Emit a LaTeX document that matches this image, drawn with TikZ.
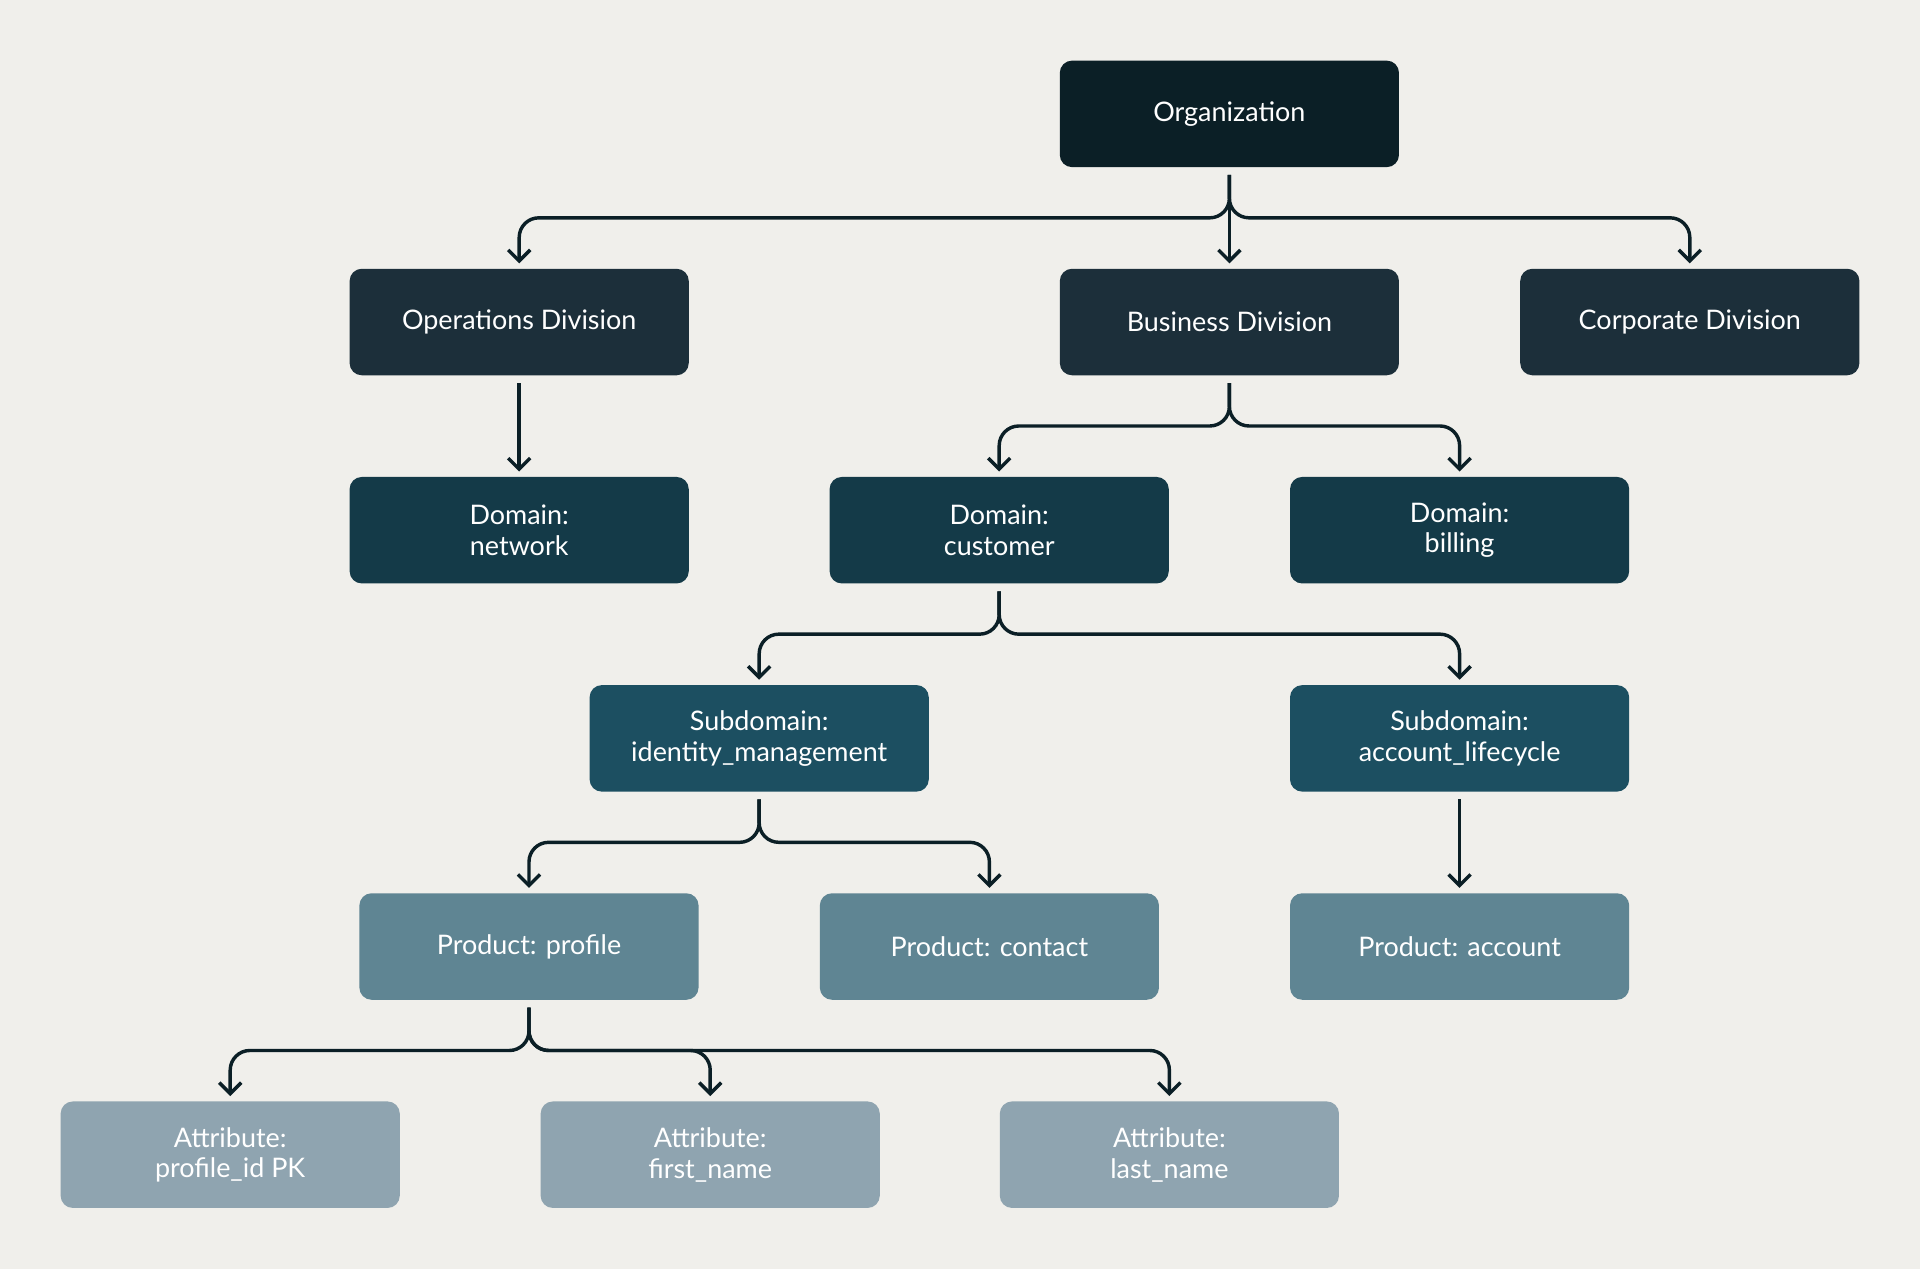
\documentclass[tikz,border=0pt]{standalone}
\usepackage{fontspec}
\setmainfont{Lato}
\usetikzlibrary{arrows.meta}
\definecolor{bg}{HTML}{F0EFEB}
\definecolor{c0}{HTML}{0B1F26}
\definecolor{c1}{HTML}{1C2F3A}
\definecolor{c2}{HTML}{143A48}
\definecolor{c3}{HTML}{1C4F61}
\definecolor{c4}{HTML}{5F8593}
\definecolor{c5}{HTML}{8FA4B0}
\begin{document}
\begin{tikzpicture}[x=0.5pt,y=-0.5pt,
 box/.style={rounded corners=5pt,minimum width=138.5pt,minimum height=43.5pt,text=white,align=center,font=\fontsize{11}{12.5}\selectfont,inner sep=0pt},
 conn/.style={draw=c0,line width=1.4pt,rounded corners=8pt,-{Straight Barb[length=4.5pt,width=9pt,line width=1.4pt]}}]
\fill[bg] (0,0) rectangle (1568,1036);
\node[box,fill=c0] (org) at (1004,93) {Organization};
\node[box,fill=c1] (ops) at (424,263) {Operations Division};
\node[box,fill=c1] (bus) at (1004,263) {Business Division};
\node[box,fill=c1] (cor) at (1380,263) {Corporate Division};
\node[box,fill=c2] (net) at (424,433) {Domain:\\network};
\node[box,fill=c2] (cus) at (816,433) {Domain:\\customer};
\node[box,fill=c2] (bil) at (1192,433) {Domain:\\billing};
\node[box,fill=c3] (idm) at (620,603) {Subdomain:\\identity\_management};
\node[box,fill=c3] (acl) at (1192,603) {Subdomain:\\account\_lifecycle};
\node[box,fill=c4] (pro) at (432,773) {Product: profile};
\node[box,fill=c4] (con) at (808,773) {Product: contact};
\node[box,fill=c4] (acc) at (1192,773) {Product: account};
\node[box,fill=c5] (a1) at (188,943) {Attribute:\\profile\_id PK};
\node[box,fill=c5] (a2) at (580,943) {Attribute:\\first\_name};
\node[box,fill=c5] (a3) at (955,943) {Attribute:\\last\_name};
\foreach \p/\c in {org/ops,org/cor,bus/cus,bus/bil,cus/idm,cus/acl,idm/pro,idm/con,pro/a1,pro/a2,pro/a3}{
 \draw[conn] ([yshift=-3pt]\p.south) -- ++(0,35) -| ([yshift=2pt]\c.north);
}
\foreach \p/\c in {org/bus,ops/net,acl/acc}{
 \draw[conn] ([yshift=-3pt]\p.south) -- ([yshift=2pt]\c.north);
}
\end{tikzpicture}
\end{document}
